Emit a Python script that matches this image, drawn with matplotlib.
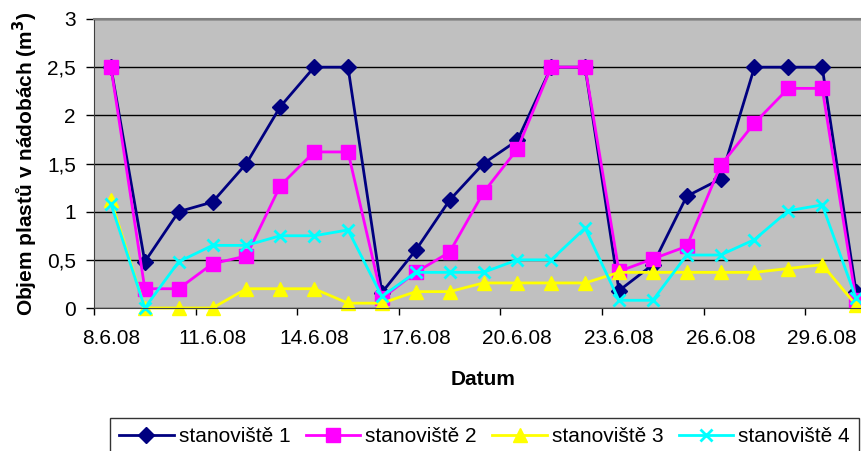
import matplotlib.pyplot as plt
from matplotlib.ticker import FuncFormatter

plt.rcParams['font.family'] = ['Liberation Sans', 'DejaVu Sans']

# daily sampling dates (category axis)
dates = ['8.6.08', '9.6.08', '10.6.08', '11.6.08', '12.6.08', '13.6.08',
         '14.6.08', '15.6.08', '16.6.08', '17.6.08', '18.6.08', '19.6.08',
         '20.6.08', '21.6.08', '22.6.08', '23.6.08', '24.6.08', '25.6.08',
         '26.6.08', '27.6.08', '28.6.08', '29.6.08', '30.6.08']

# volume of plastics in containers (m3) per site
site1 = [2.5, 0.48, 1.0, 1.1, 1.5, 2.09, 2.5, 2.5, 0.16, 0.6, 1.12, 1.5,
         1.74, 2.5, 2.5, 0.18, 0.45, 1.16, 1.34, 2.5, 2.5, 2.5, 0.17]
site2 = [2.5, 0.2, 0.2, 0.46, 0.54, 1.27, 1.62, 1.62, 0.1, 0.37, 0.58, 1.2,
         1.65, 2.5, 2.5, 0.38, 0.51, 0.64, 1.48, 1.92, 2.28, 2.28, 0.08]
site3 = [1.12, 0, 0, 0, 0.2, 0.2, 0.2, 0.05, 0.05, 0.17, 0.17, 0.26,
         0.26, 0.26, 0.26, 0.37, 0.37, 0.37, 0.37, 0.37, 0.41, 0.45, 0.03]
site4 = [1.08, 0, 0.48, 0.65, 0.65, 0.75, 0.75, 0.81, 0.12, 0.37, 0.37, 0.37,
         0.5, 0.5, 0.83, 0.08, 0.08, 0.55, 0.55, 0.71, 1.01, 1.07, 0.1]

names = ['stanoviště 1', 'stanoviště 2', 'stanoviště 3', 'stanoviště 4']
colors = ['#000080', '#FF00FF', '#FFFF00', '#00FFFF']
markers = ['D', 's', '^', 'x']

FS = 15

fig = plt.figure(figsize=(8.62, 4.51), dpi=100)
W, H = 862, 451
ax = fig.add_axes([94 / W, 1 - 308 / H, 23 * 33.87 / W, (308 - 19) / H])
ax.set_facecolor('#C0C0C0')

x = list(range(len(dates)))
sizes = [8, 9.5, 10, 9]
mew = [1, 1, 1, 2]
for vals, name, c, m, s, w in zip([site1, site2, site3, site4], names,
                                  colors, markers, sizes, mew):
    ax.plot(x, vals, color=c, marker=m, markersize=s, markeredgewidth=w,
            linewidth=2, label=name, clip_on=False)

ax.set_xlim(-0.5, len(dates) - 0.5)
ax.set_ylim(0, 3)

# tick marks between categories, labels on every third date
ax.set_xticks([i - 0.5 for i in range(0, len(dates), 3)])
ax.set_xticklabels([])
ax.set_xticks(x[::3], minor=True)
ax.set_xticklabels(dates[::3], minor=True)
ax.tick_params(axis='x', which='minor', length=0, pad=15, labelsize=FS)
ax.tick_params(axis='x', which='major', direction='out', length=5, width=1)

ax.set_yticks([0, 0.5, 1, 1.5, 2, 2.5, 3])
ax.yaxis.set_major_formatter(FuncFormatter(lambda v, p: ('%g' % v).replace('.', ',')))
ax.tick_params(axis='y', direction='out', length=6, width=1, labelsize=FS, pad=7)
ax.grid(axis='y', color='black', linewidth=1)
ax.set_axisbelow(True)

ax.spines['top'].set_color('#808080')
ax.spines['top'].set_linewidth(1.5)
ax.spines['right'].set_visible(False)
ax.spines['left'].set_color('#404040')
ax.spines['bottom'].set_color('#404040')

ax.set_xlabel('Datum', fontsize=FS, fontweight='bold', labelpad=16)
ax.set_ylabel('Objem plastů v nádobách (m$^{\\mathbf{3}}$)', fontsize=FS,
              fontweight='bold', labelpad=5)

fig.legend(loc='upper left', bbox_to_anchor=(110 / W, 1 - 418 / H), ncol=4,
           fontsize=FS, frameon=True, fancybox=False, edgecolor='black',
           handlelength=2.6, handletextpad=0.25, columnspacing=0.75,
           borderpad=0.45, borderaxespad=0)

fig.savefig('out.png', dpi=100)
